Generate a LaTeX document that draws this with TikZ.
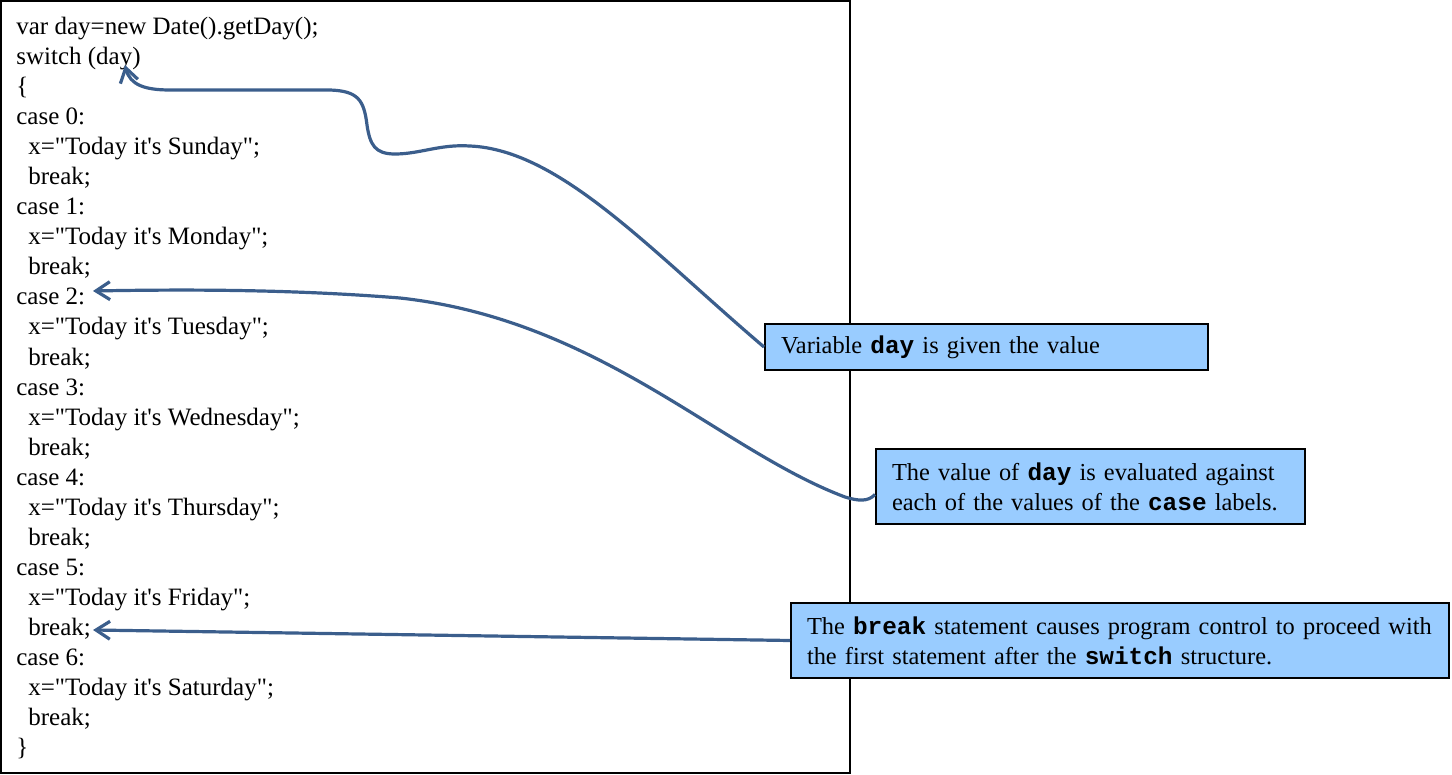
\documentclass[tikz,border=0pt]{standalone}
\usepackage{fontspec}
\setmainfont{Liberation Serif}[Ligatures=TeXOff]
\setmonofont{Liberation Mono}
\usepackage{xcolor}
\usepackage{tikz}
\usetikzlibrary{arrows.meta,positioning,calc}
\definecolor{arrowblue}{HTML}{3B5E8C}
\definecolor{noteblue}{HTML}{99CCFF}
\newcommand{\kw}[1]{\texttt{\textbf{#1}}}

\begin{document}
\begin{tikzpicture}[x=0.5pt, y=-0.5pt, font=\fontsize{12.5}{15}\selectfont, >={Straight Barb[length=7pt,width=9pt]}]
    \tikzstyle{note} = [draw, line width=1pt, fill=noteblue, anchor=north west, align=left, inner xsep=8pt, inner ysep=0pt, font=\fontsize{12.2}{15}\selectfont]
    \tikzstyle{line} = [draw, arrowblue, line width=1.6pt, ->]
    \tikzstyle{code} = [anchor=base west, inner sep=0pt]

    \useasboundingbox (0,0) rectangle (1452,775);
    \draw [line width=1pt] (1,1) rectangle (850,773);

    % code listing
    \foreach \ind/\txt [count=\i] in {16/var day=new Date().getDay();, 16/switch (day), 16/\{,
        16/case 0:, 28/x="Today it's Sunday";, 28/break;,
        16/case 1:, 28/x="Today it's Monday";, 28/break;,
        16/case 2:, 28/x="Today it's Tuesday";, 28/break;,
        16/case 3:, 28/x="Today it's Wednesday";, 28/break;,
        16/case 4:, 28/x="Today it's Thursday";, 28/break;,
        16/case 5:, 28/x="Today it's Friday";, 28/break;,
        16/case 6:, 28/x="Today it's Saturday";, 28/break;, 16/\}}
        \node [code] (l\i) at (\ind, 5+30*\i) {\txt};

    \node [note, text width=205.5pt, minimum height=23pt] (given) at (764,323) {Variable \kw{day} is given the value};
    \node [note, text width=198.5pt, minimum height=37.5pt] (evaluated) at (875,448) {\mbox{The value of \kw{day} is evaluated against}\\\mbox{each of the values of the \kw{case} labels.}};
    \node [note, text width=313pt, minimum height=37.5pt] (breaknote) at (790,602) {\mbox{The \kw{break} statement causes program control to proceed with}\\\mbox{the first statement after the \kw{switch} structure.}};

    \coordinate (dayarg) at (125,65);
    \coordinate (casetwo) at (93,291);
    \coordinate (breakfive) at (93,630);

    \draw [line] (given.west) .. controls (650,250) and (560,150) .. (470,146)
        .. controls (440,144) and (420,154) .. (395,154)
        .. controls (375,154) and (370,145) .. (367,125)
        .. controls (364,100) and (358,91) .. (330,90) -- (170,90)
        .. controls (145,90) and (130,85) .. (dayarg);
    \draw [line] ($(evaluated.west)+(0,8)$) .. controls (868,502) and (858,501) .. (845,497)
        .. controls (720,450) and (600,320) .. (400,298)
        .. controls (300,290) and (200,289) .. (casetwo);
    \draw [line] (breaknote.west) -- (breakfive);
\end{tikzpicture}
\end{document}
